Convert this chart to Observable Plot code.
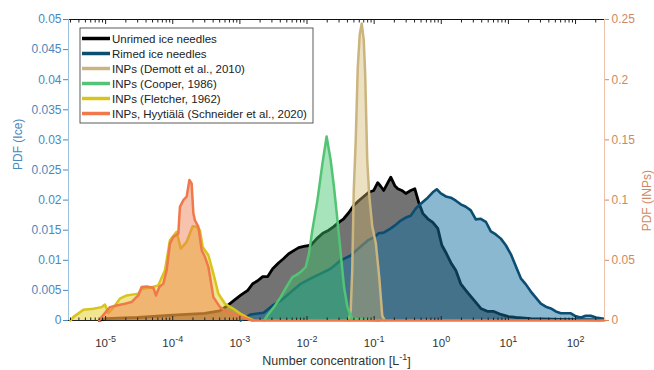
<!DOCTYPE html>
<html>
<head>
<meta charset="utf-8">
<script src="https://cdn.jsdelivr.net/npm/d3@7"></script>
<script src="https://cdn.jsdelivr.net/npm/@observablehq/plot@0.6"></script>
<style>
  html, body { margin: 0; padding: 0; background: #fff; }
  svg { font-family: "Liberation Sans", Arial, Helvetica, sans-serif; }
</style>
</head>
<body>
<div id="chart"></div>
<script>
// ---- Data: number concentration [L^-1] and probability density ----
// Ice needle PDFs (left axis)
const unrimedConc = [8e-6, 1e-5, 3e-5, 1e-4, 3e-4, 5e-4, 6.6e-4, 8.1e-4, 1.03e-3, 1.31e-3, 1.55e-3, 1.84e-3, 2.19e-3, 2.6e-3, 3.08e-3, 3.79e-3, 4.5e-3, 5.34e-3, 6.34e-3, 7.52e-3, 8.93e-3, 1.14e-2, 1.4e-2, 1.72e-2, 2.11e-2, 2.5e-2, 2.97e-2, 3.52e-2, 4.18e-2, 4.96e-2, 5.89e-2, 7.0e-2, 8.3e-2, 9.86e-2, 0.113, 0.125, 0.139, 0.16, 0.177, 0.203, 0.225, 0.258, 0.296, 0.351, 0.403, 0.462, 0.53, 0.629, 0.747, 0.887, 1.02, 1.17, 1.39, 1.65, 1.95, 2.32, 2.75, 3.27, 3.88, 4.94, 6.07, 7.71, 9.8, 12.9, 21.6, 60.4, 238];
const unrimedPdf = [0, 0.0003, 0.0005, 0.0009, 0.0012, 0.0016, 0.0025, 0.0033, 0.0042, 0.005, 0.0061, 0.0066, 0.0073, 0.0073, 0.0086, 0.0096, 0.0103, 0.0111, 0.0116, 0.0121, 0.0123, 0.0125, 0.0136, 0.0145, 0.015, 0.0156, 0.0163, 0.0169, 0.0179, 0.0191, 0.0199, 0.0206, 0.0213, 0.0216, 0.0229, 0.0223, 0.0216, 0.0229, 0.0238, 0.0224, 0.0219, 0.0216, 0.0211, 0.0216, 0.0219, 0.0196, 0.0178, 0.0169, 0.0163, 0.0153, 0.0125, 0.0113, 0.0096, 0.0083, 0.0061, 0.005, 0.004, 0.003, 0.002, 0.0015, 0.0015, 0.001, 0.0007, 0.0005, 0.0003, 0.0002, 0.0001];

const rimedConc = [1.03e-3, 1.45e-3, 2.26e-3, 3.08e-3, 4.05e-3, 5.71e-3, 8.06e-3, 1.14e-2, 1.6e-2, 2.25e-2, 3.18e-2, 4.48e-2, 6.31e-2, 8.03e-2, 9.86e-2, 0.117, 0.139, 0.177, 0.21, 0.249, 0.296, 0.351, 0.417, 0.495, 0.629, 0.747, 0.857, 0.983, 1.17, 1.39, 1.65, 1.95, 2.32, 2.75, 3.27, 3.88, 4.61, 5.47, 6.49, 7.71, 9.15, 10.9, 12.9, 15.3, 18.2, 21.6, 25.6, 30.4, 36.1, 42.9, 50.8, 60.4, 71.6, 85.1, 101, 120, 142, 169, 201, 264];
const rimedPdf = [0, 0.001, 0.0013, 0.0025, 0.0033, 0.0047, 0.0061, 0.007, 0.0078, 0.0086, 0.01, 0.0108, 0.0123, 0.0133, 0.0138, 0.0145, 0.0146, 0.0153, 0.0159, 0.0166, 0.0171, 0.0174, 0.0186, 0.0194, 0.0204, 0.0213, 0.0218, 0.0211, 0.0206, 0.0204, 0.0199, 0.0193, 0.0189, 0.0183, 0.0168, 0.0169, 0.0164, 0.0148, 0.0143, 0.0136, 0.0125, 0.011, 0.009, 0.007, 0.006, 0.0048, 0.0038, 0.0028, 0.0023, 0.002, 0.0015, 0.0012, 0.0012, 0.0012, 0.0007, 0.0005, 0.0008, 0.0008, 0.0005, 0.0003];

// INP PDFs (right axis)
const demottConc = [4.18e-2, 4.48e-2, 4.72e-2, 4.97e-2, 5.32e-2, 5.7e-2, 6.1e-2, 6.53e-2, 7.0e-2, 7.36e-2, 7.89e-2, 8.45e-2, 9.38e-2, 0.106, 0.119, 0.132, 0.144];
const demottPdf = [0, 0.0083, 0.042, 0.108, 0.15, 0.21, 0.2375, 0.2467, 0.233, 0.204, 0.133, 0.104, 0.078, 0.064, 0.036, 0.004, 0];

const cooperConc = [2.3e-3, 2.57e-3, 3.22e-3, 4.05e-3, 5.1e-3, 6.06e-3, 6.79e-3, 8.06e-3, 9.57e-3, 1.07e-2, 1.2e-2, 1.43e-2, 1.7e-2, 1.96e-2, 2.25e-2, 2.52e-2, 2.84e-2, 3.18e-2, 3.56e-2, 4.0e-2, 4.59e-2, 5.5e-2, 0.12];
const cooperPdf = [0, 0.0042, 0.0111, 0.0194, 0.0292, 0.0361, 0.0375, 0.0403, 0.0444, 0.0556, 0.075, 0.1, 0.1306, 0.1528, 0.1333, 0.1111, 0.0833, 0.0556, 0.0278, 0.0111, 0.0028, 0.001, 0];

const fletcherConc = [3.0e-6, 3.3e-6, 4.66e-6, 6.56e-6, 8.71e-6, 9.77e-6, 1.1e-5, 1.3e-5, 1.63e-5, 2.06e-5, 2.59e-5, 3.07e-5, 3.44e-5, 4.57e-5, 6.1e-5, 7.66e-5, 9.08e-5, 1.14e-4, 1.32e-4, 1.61e-4, 1.98e-4, 2.27e-4, 2.54e-4, 2.79e-4, 3.4e-4, 4.03e-4, 4.79e-4, 6.0e-4, 8.0e-4, 1.06e-3, 1.26e-3, 1.6e-3];
const fletcherPdf = [0, 0.0028, 0.0089, 0.0097, 0.0111, 0.0133, 0.0061, 0.0106, 0.0181, 0.0208, 0.0217, 0.0222, 0.0264, 0.0272, 0.0292, 0.0417, 0.0667, 0.0736, 0.0597, 0.0653, 0.0783, 0.0778, 0.075, 0.0611, 0.0542, 0.0389, 0.0222, 0.0139, 0.0097, 0.005, 0.0028, 0];

const hyytialaConc = [8.0e-6, 8.7e-6, 1.16e-5, 1.46e-5, 1.94e-5, 2.44e-5, 2.73e-5, 3.07e-5, 3.44e-5, 4.08e-5, 5.14e-5, 5.62e-5, 6.31e-5, 7.24e-5, 8.11e-5, 9.08e-5, 1.02e-4, 1.21e-4, 1.28e-4, 1.44e-4, 1.61e-4, 1.77e-4, 1.91e-4, 2.03e-4, 2.14e-4, 2.41e-4, 2.7e-4, 3.02e-4, 3.4e-4, 4.03e-4, 5.05e-4, 6.35e-4, 8.95e-4, 1.2e-3, 1.5e-3, 270];
const hyytialaPdf = [0, 0.0028, 0.0111, 0.0125, 0.0139, 0.0153, 0.0181, 0.0208, 0.0278, 0.0283, 0.0272, 0.0208, 0.0278, 0.0306, 0.0417, 0.0639, 0.0694, 0.0722, 0.0944, 0.1, 0.1028, 0.1167, 0.1139, 0.0889, 0.0833, 0.0778, 0.0583, 0.0528, 0.0444, 0.0194, 0.0111, 0.0075, 0.0045, 0.002, 0, 0];

// ---- Axis ticks ----
const iceTicks = [0, 0.005, 0.01, 0.015, 0.02, 0.025, 0.03, 0.035, 0.04, 0.045, 0.05];
const inpTicks = [0, 0.05, 0.1, 0.15, 0.2, 0.25];
const decadeTicks = [1e-5, 1e-4, 1e-3, 1e-2, 1e-1, 1, 10, 100];
const xDomain = [2.8e-6, 270];
const iceMax = 0.05;
const inpMax = 0.25;
const inpToIce = iceMax / inpMax;   // right axis is mapped onto the left one

const minorTicks = d3.range(-6, 3)
  .flatMap(e => d3.range(2, 10).map(m => m * Math.pow(10, e)))
  .filter(v => v >= xDomain[0] && v <= xDomain[1]);

// ---- Series styling (drawing order = stacking order) ----
const series = [
  {name: "Unrimed ice needles", conc: unrimedConc, pdf: unrimedPdf, axis: "ice", stroke: "#000000", fill: "#000000", fillOpacity: 0.55, width: 2.8},
  {name: "Rimed ice needles", conc: rimedConc, pdf: rimedPdf, axis: "ice", stroke: "#0c4e72", fill: "#1571a1", fillOpacity: 0.5, width: 2.6},
  {name: "INPs (Demott et al., 2010)", conc: demottConc, pdf: demottPdf, axis: "inp", stroke: "#cbb57e", fill: "#d2b56c", fillOpacity: 0.4, width: 2.5},
  {name: "INPs (Cooper, 1986)", conc: cooperConc, pdf: cooperPdf, axis: "inp", stroke: "#52c474", fill: "#3cc068", fillOpacity: 0.45, width: 2.5},
  {name: "INPs (Fletcher, 1962)", conc: fletcherConc, pdf: fletcherPdf, axis: "inp", stroke: "#d9c41c", fill: "#e2cc22", fillOpacity: 0.5, width: 2.5},
  {name: "INPs, Hyytiälä (Schneider et al., 2020)", conc: hyytialaConc, pdf: hyytialaPdf, axis: "inp", stroke: "#f0784a", fill: "#f07a4c", fillOpacity: 0.45, width: 2.5}
];

const rowsOf = s => s.conc.map((c, i) => ({conc: c, y: s.axis === "ice" ? s.pdf[i] : s.pdf[i] * inpToIce}));

const iceColor = "#4a88c0";
const iceLine = "#9cc2de";
const inpColor = "#cf8862";
const inpLine = "#ecc2ab";
const fmt = d => String(+d.toFixed(3));

const seriesMarks = series.flatMap(s => {
  const rows = rowsOf(s);
  return [
    Plot.areaY(rows, {x: "conc", y: "y", fill: s.fill, fillOpacity: s.fillOpacity}),
    Plot.lineY(rows, {x: "conc", y: "y", stroke: s.stroke, strokeWidth: s.width, strokeLinejoin: "round"})
  ];
});

const plot = Plot.plot({
  width: 654,
  height: 370,
  marginLeft: 68,
  marginRight: 50,
  marginTop: 19,
  marginBottom: 50,
  style: {fontFamily: "'Liberation Sans', Arial, Helvetica, sans-serif", fontSize: "12px", background: "#fff", overflow: "visible"},
  x: {type: "log", domain: xDomain, label: null},
  y: {domain: [0, iceMax], label: null},
  marks: [
    Plot.ruleY([0], {stroke: "#222"}),
    ...seriesMarks,
    // box
    Plot.ruleY([iceMax], {stroke: "#111"}),
    Plot.ruleX([xDomain[0]], {stroke: iceLine}),
    Plot.ruleX([xDomain[1]], {stroke: inpLine}),
    // x ticks (inward) on both bottom and top
    Plot.axisX({anchor: "bottom", ticks: decadeTicks, tickSize: -4, fill: "none", color: "#222", label: null}),
    Plot.axisX({anchor: "bottom", ticks: minorTicks, tickSize: -2.5, fill: "none", color: "#222", label: null}),
    Plot.axisX({anchor: "top", ticks: decadeTicks, tickSize: -4, fill: "none", color: "#222", label: null}),
    Plot.axisX({anchor: "top", ticks: minorTicks, tickSize: -2.5, fill: "none", color: "#222", label: null}),
    Plot.axisX({anchor: "bottom", ticks: decadeTicks, tickSize: 0, tickPadding: 18, color: "#333", fontSize: 11.5,
      tickFormat: d => "10^" + Math.round(Math.log10(d)), label: null}),
    // y axes
    Plot.axisY({anchor: "left", ticks: iceTicks, tickFormat: fmt, tickSize: 5, tickPadding: 2, color: iceColor, fontSize: 12, label: null}),
    Plot.axisY({anchor: "right", ticks: inpTicks.map(v => v * inpToIce), tickFormat: d => fmt(d / inpToIce),
      tickSize: 4, tickPadding: 3, color: inpColor, fontSize: 12, label: null}),
    // axis titles
    Plot.text(["Number concentration [L^-1]"], {frameAnchor: "bottom", dy: 44, text: d => d, fill: "#333", fontSize: 12.5}),
    Plot.text(["PDF (Ice)"], {frameAnchor: "left", dx: -50, rotate: -90, text: d => d, fill: iceColor, fontSize: 12}),
    Plot.text(["PDF (INPs)"], {frameAnchor: "right", dx: 43, rotate: -90, text: d => d, fill: inpColor, fontSize: 12})
  ]
});

// superscript exponents in x tick labels and the x title
function superscript(textEl) {
  const t = textEl.textContent;
  if (!t.includes("^")) return;
  const parts = t.split(/\^(-?\d+)/);
  const sel = d3.select(textEl);
  sel.text(null);
  sel.append("tspan").text(parts[0]);
  sel.append("tspan").attr("dy", "-0.5em").attr("font-size", "9px").text(parts[1]);
  if (parts[2]) sel.append("tspan").attr("dy", "0.5em").text(parts[2]);
}
d3.select(plot).selectAll("text").each(function() { superscript(this); });

// legend
const legend = d3.select(plot).append("g")
  .attr("font-size", 11.5).attr("fill", "#222").attr("text-anchor", "start");
legend.append("rect")
  .attr("x", 80).attr("y", 28).attr("width", 233).attr("height", 95)
  .attr("fill", "#fff").attr("stroke", "#333").attr("stroke-width", 0.8);
series.forEach((s, i) => {
  const y = 38.5 + i * 15;
  legend.append("line").attr("x1", 82).attr("x2", 110).attr("y1", y).attr("y2", y)
    .attr("stroke", s.stroke).attr("stroke-width", 3.5);
  legend.append("text").attr("x", 112).attr("y", y).attr("dy", "0.35em").text(s.name);
});

document.getElementById("chart").appendChild(plot);
</script>
</body>
</html>
